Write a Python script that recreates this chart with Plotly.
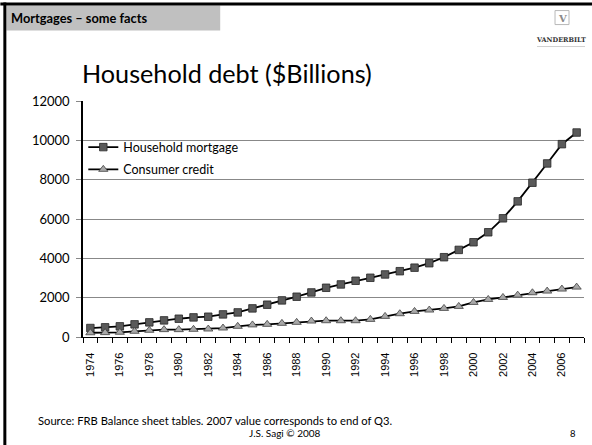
import plotly.graph_objects as go

years = list(range(1974, 2008))
mortgage = [456, 492, 542, 643, 744, 845, 929, 997, 1031, 1149, 1250, 1455,
            1642, 1861, 2048, 2266, 2503, 2672, 2860, 3011, 3180, 3346, 3525,
            3753, 4057, 4429, 4818, 5325, 6035, 6897, 7844, 8825, 9805, 10397]
consumer = [215, 222, 240, 290, 340, 375, 375, 390, 406, 456, 542, 615,
            643, 694, 744, 811, 828, 828, 828, 896, 1048, 1183, 1301,
            1370, 1454, 1555, 1758, 1910, 2011, 2129, 2250, 2334, 2436, 2537]
label_years = list(range(1974, 2007, 2))
y_ticks = list(range(0, 12001, 2000))

W, H = 592, 445
L, R, T, B = 82.7, 584, 100.5, 336.7
PW, PH = R - L, B - T

def px(x):
    return (x - L) / PW

def py(y):
    return (B - y) / PH

fig = go.Figure()
fig.add_trace(go.Scatter(
    x=years, y=mortgage, name="Household mortgage", mode="lines+markers",
    line=dict(color="black", width=1.8),
    marker=dict(symbol="square", size=7.5, color="#5a5a5a", line=dict(color="#262626", width=0.8)),
    legendgroup="a"))
fig.add_trace(go.Scatter(
    x=years, y=consumer, name="Consumer credit", mode="lines+markers",
    line=dict(color="black", width=1.8),
    marker=dict(symbol="triangle-up", size=8, color="#a8a8a8", line=dict(color="#404040", width=0.8)),
    legendgroup="b"))

shapes = [
    # slide borders
    dict(type="line", xref="paper", yref="paper", x0=px(0), x1=px(W), y0=py(3.5), y1=py(3.5),
         line=dict(color="black", width=3)),
    dict(type="line", xref="paper", yref="paper", x0=px(4.5), x1=px(4.5), y0=py(2), y1=py(H),
         line=dict(color="black", width=3)),
    # title box
    dict(type="rect", xref="paper", yref="paper", x0=px(6), x1=px(220), y0=py(5), y1=py(30),
         fillcolor="#c0c0c0", line=dict(width=0), layer="below"),
    # logo box
    dict(type="rect", xref="paper", yref="paper", x0=px(555), x1=px(569), y0=py(10), y1=py(24),
         fillcolor="white", line=dict(color="#b8b8b8", width=1)),
    dict(type="line", xref="paper", yref="paper", x0=px(537), x1=px(585), y0=py(46), y1=py(46),
         line=dict(color="#d0d0d0", width=1)),
]

annotations = [
    dict(text="<b>Mortgages – some facts</b>", x=px(9), y=py(17.5), xanchor="left", yanchor="middle",
         font=dict(family="Lato", size=12.8, color="black")),
    dict(text="Household debt ($Billions)", x=px(80), y=py(72), xanchor="left", yanchor="middle",
         font=dict(family="Lato", size=25.2, color="black")),
    dict(text="<b>V</b>", x=px(562), y=py(17.5), xanchor="center", yanchor="middle",
         font=dict(family="DejaVu Serif", size=10, color="#8a8a8a")),
    dict(text="<b>VANDERBILT</b>", x=px(561), y=py(39), xanchor="center", yanchor="middle",
         font=dict(family="DejaVu Serif", size=6.5, color="#333333")),
    dict(text="Source: FRB Balance sheet tables. 2007 value corresponds to end of Q3.", x=px(36), y=py(420),
         xanchor="left", yanchor="middle", font=dict(family="Lato", size=11.2, color="black")),
    dict(text="J.S. Sagi © 2008", x=px(285), y=py(433), xanchor="center", yanchor="middle",
         font=dict(family="Lato", size=10, color="black")),
    dict(text="8", x=px(573), y=py(433), xanchor="center", yanchor="middle",
         font=dict(family="Lato", size=9.5, color="black")),
]
for a in annotations:
    a.update(xref="paper", yref="paper", showarrow=False)

fig.update_layout(
    width=W, height=H,
    margin=dict(l=L, r=W - R, t=T, b=H - B, pad=0),
    paper_bgcolor="white", plot_bgcolor="white",
    showlegend=True,
    legend=dict(x=px(83), y=py(132), xanchor="left", yanchor="top",
                font=dict(family="Lato", size=12.5, color="black"),
                bgcolor="rgba(0,0,0,0)", itemwidth=30, tracegroupgap=3),
    shapes=shapes, annotations=annotations,
    xaxis=dict(range=[1973.5, 2007.5], tickmode="array", tickvals=label_years,
               ticktext=[str(v) for v in label_years], tickangle=-90, ticks="",
               ticklabelstandoff=10,
               tickfont=dict(family="Liberation Sans", size=11, color="black"),
               showgrid=False, zeroline=False, showline=True, linecolor="black", linewidth=1.2,
               minor=dict(tickmode="array", tickvals=[v - 0.5 for v in years] + [2007.5],
                          ticks="outside", ticklen=5, tickcolor="black", tickwidth=1, showgrid=False)),
    yaxis=dict(range=[0, 12000], tickmode="array", tickvals=y_ticks,
               ticktext=[str(v) for v in y_ticks], ticks="outside", ticklen=5,
               tickcolor="#888888", tickfont=dict(family="Lato", size=13, color="black"),
               showgrid=True, gridcolor="#888888", gridwidth=1, zeroline=False,
               showline=True, linecolor="black", linewidth=1.5, ticklabelstandoff=4),
)

fig.write_html("out.html")
